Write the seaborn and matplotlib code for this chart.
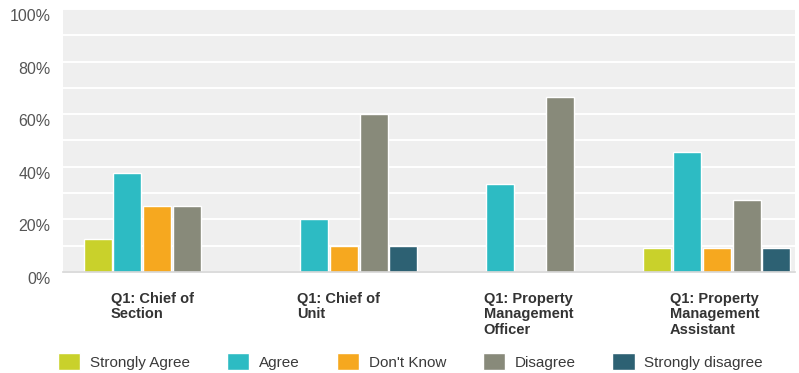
import matplotlib
matplotlib.use("Agg")
import matplotlib.pyplot as plt
import matplotlib.transforms as mtransforms
import numpy as np
import pandas as pd
import seaborn as sns

# Survey question groups (x axis) and answer categories (hue)
groups = [
    "Q1: Chief of\nSection",
    "Q1: Chief of\nUnit",
    "Q1: Property\nManagement\nOfficer",
    "Q1: Property\nManagement\nAssistant",
]
responses = ["Strongly Agree", "Agree", "Don't Know", "Disagree", "Strongly disagree"]

# Percentage of respondents per answer, one list per group
chief_of_section = [12.5, 37.5, 25.0, 25.0, 0.0]
chief_of_unit = [0.0, 20.0, 10.0, 60.0, 10.0]
pm_officer = [0.0, 33.33, 0.0, 66.67, 0.0]
pm_assistant = [9.09, 45.45, 9.09, 27.27, 9.09]

colors = ["#c9d12b", "#2dbbc3", "#f6a81f", "#888a7a", "#2d6173"]
y_ticks = [0, 20, 40, 60, 80, 100]
y_tick_labels = ["0%", "20%", "40%", "60%", "80%", "100%"]

rows = []
for g, vals in zip(groups, [chief_of_section, chief_of_unit, pm_officer, pm_assistant]):
    for r, v in zip(responses, vals):
        rows.append({"group": g, "response": r, "pct": v})
df = pd.DataFrame(rows)

sns.set_theme(style="white")
plt.rcParams["font.family"] = ["Liberation Sans", "DejaVu Sans"]

fig = plt.figure(figsize=(7.99, 3.73), dpi=100)
ax = fig.add_axes([0.079, 0.271, 0.916, 0.705])
ax.set_facecolor("#efefef")

sns.barplot(
    data=df, x="group", y="pct", hue="response",
    order=groups, hue_order=responses, palette=colors,
    width=0.8, gap=0.06, saturation=1, errorbar=None, ax=ax,
)

ax.set_ylim(0, 100)
ax.set_xlim(-0.505, 3.42)
ax.set_yticks(y_ticks)
ax.set_yticklabels(y_tick_labels)
ax.set_yticks(np.arange(10, 100, 20), minor=True)
ax.grid(True, axis="y", which="both", color="white", linewidth=1.4)
ax.set_axisbelow(True)
ax.tick_params(axis="y", length=0, pad=9, labelsize=11.5, labelcolor="#555555")
ax.tick_params(axis="y", which="minor", length=0)
for lbl in ax.get_yticklabels():
    lbl.set_verticalalignment("top")
ax.set_xlabel("")
ax.set_ylabel("")

for side in ["top", "right", "left"]:
    ax.spines[side].set_visible(False)
ax.spines["bottom"].set_color("#d6d6d6")
ax.spines["bottom"].set_linewidth(1.2)

# Category labels, left-aligned blocks under each group
ax.set_xticks(range(len(groups)))
ax.set_xticklabels([])
ax.tick_params(axis="x", length=0)
trans = mtransforms.blended_transform_factory(ax.transData, ax.transAxes)
for i, g in enumerate(groups):
    ax.text(i - 0.25, -0.075, g, transform=trans, ha="left", va="top",
            fontsize=10.5, fontweight="bold", color="#333333", linespacing=1.15)

handles, labels = ax.get_legend_handles_labels()
ax.get_legend().remove()
fig.legend(handles, labels, loc="center", bbox_to_anchor=(0.514, 0.03), ncol=5,
           frameon=False, fontsize=11, handlelength=1.45, handleheight=1.3,
           handletextpad=0.65, columnspacing=2.4, labelcolor="#3a3a3a")

fig.savefig("out.png", dpi=100, facecolor="white")
